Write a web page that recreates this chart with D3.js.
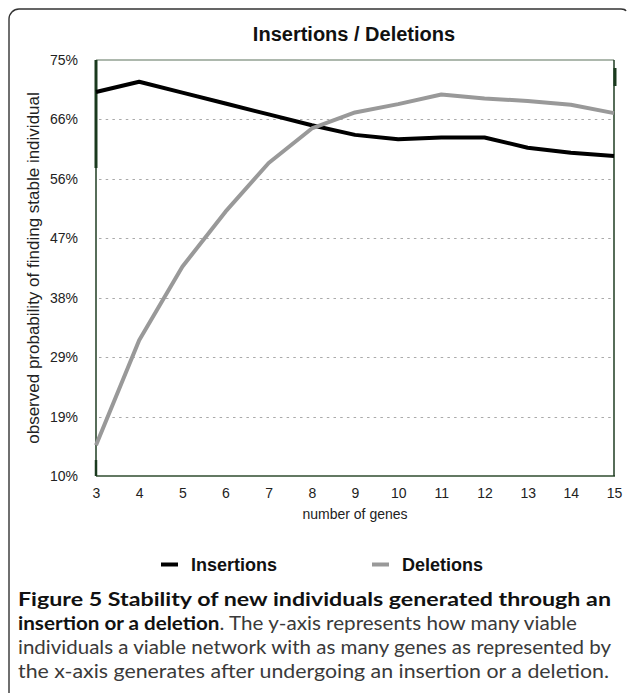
<!DOCTYPE html>
<html>
<head>
<meta charset="utf-8">
<script src="https://cdn.jsdelivr.net/npm/d3@7"></script>
<style>
  html, body { margin: 0; padding: 0; background: #fff; overflow: hidden; }
  svg { display: block; }
</style>
</head>
<body>
<svg id="chart" width="627" height="693"></svg>
<script>
// ---- data ----
const genes = [3, 4, 5, 6, 7, 8, 9, 10, 11, 12, 13, 14, 15];
const insertions = [70.0, 71.6, 69.9, 68.2, 66.5, 64.8, 63.3, 62.6, 62.9, 62.9, 61.3, 60.5, 60.0];
const deletions = [14.8, 31.2, 42.7, 51.3, 58.9, 64.3, 66.8, 68.1, 69.6, 69.0, 68.6, 68.0, 66.7];
const yTickValues = [10, 10 + 65 / 7, 10 + 130 / 7, 10 + 195 / 7, 10 + 260 / 7, 10 + 325 / 7, 10 + 390 / 7, 75];
const seriesNames = ["Insertions", "Deletions"];
const seriesColors = ["#000000", "#999999"];
const titleText = "Insertions / Deletions";
const xTitle = "number of genes";
const yTitle = "observed probability of finding stable individual";

(function () {
const svg = d3.select("#chart");

// outer panel border (rounded top-left corner, small dip at the right end)
svg.append("path")
  .attr("d", "M9,700 V19 A10,10 0 0 1 19,9 H621 Q625,9 626,11")
  .attr("fill", "none").attr("stroke", "#333").attr("stroke-width", 1.4);

const pL = 96, pR = 614, pT = 60, pB = 476;
const x = d3.scaleLinear().domain([3, 15]).range([pL, pR]);
const y = d3.scaleLinear().domain([10, 75]).range([pB, pT]);

// title
svg.append("text").attr("x", 354).attr("y", 40.5)
  .attr("text-anchor", "middle")
  .attr("font-family", "'Liberation Sans', Arial, sans-serif")
  .attr("font-weight", "bold").attr("font-size", 20)
  .attr("fill", "#111").text(titleText);

// grid lines
svg.append("g").selectAll("line")
  .data(yTickValues.slice(1, -1))
  .join("line")
  .attr("x1", pL + 3).attr("x2", pR - 3)
  .attr("y1", d => Math.round(y(d)) + 0.5).attr("y2", d => Math.round(y(d)) + 0.5)
  .attr("stroke", "#aaa").attr("stroke-width", 1.2)
  .attr("stroke-dasharray", "2.5,4.2");

// y axis labels
const yAxis = d3.axisLeft(y).tickValues(yTickValues)
  .tickFormat(d => Math.round(d) + "%").tickSize(0).tickPadding(18);
const gy = svg.append("g").attr("transform", `translate(${pL},0)`).call(yAxis);
gy.select(".domain").remove();
gy.selectAll("text").attr("font-family", "'Liberation Sans', Arial, sans-serif")
  .attr("font-size", 14).attr("fill", "#222");

// x axis labels
const xAxis = d3.axisBottom(x).tickValues(genes).tickFormat(d3.format("d"))
  .tickSize(0).tickPadding(12);
const gx = svg.append("g").attr("transform", `translate(0,${pB})`).call(xAxis);
gx.select(".domain").remove();
gx.selectAll("text").attr("font-family", "'Liberation Sans', Arial, sans-serif")
  .attr("font-size", 14).attr("fill", "#222");

// plot frame
const frame = svg.append("g");
frame.append("line").attr("x1", pL).attr("x2", pR).attr("y1", pT).attr("y2", pT)
  .attr("stroke", "#5d735d").attr("stroke-width", 1.2);
frame.append("line").attr("x1", pL).attr("x2", pR + 1).attr("y1", pB).attr("y2", pB)
  .attr("stroke", "#2f4d2f").attr("stroke-width", 1.5);
frame.append("line").attr("x1", pL).attr("x2", pL).attr("y1", pT).attr("y2", pB)
  .attr("stroke", "#1f3d22").attr("stroke-width", 1.5);
frame.append("line").attr("x1", pR).attr("x2", pR).attr("y1", pT).attr("y2", pB)
  .attr("stroke", "#1f3d22").attr("stroke-width", 1.5);
frame.append("line").attr("x1", pL).attr("x2", pL).attr("y1", pT).attr("y2", 168)
  .attr("stroke", "#1a3a1e").attr("stroke-width", 3);
frame.append("line").attr("x1", pL).attr("x2", pL).attr("y1", 460).attr("y2", pB)
  .attr("stroke", "#1a3a1e").attr("stroke-width", 2.5);
frame.append("line").attr("x1", pR + 1).attr("x2", pR + 1).attr("y1", 68).attr("y2", 86)
  .attr("stroke", "#1a3a1e").attr("stroke-width", 3);

// series lines
const line = d3.line().x(d => x(d[0])).y(d => y(d[1]));
[insertions, deletions].forEach((vals, i) => {
  svg.append("path")
    .datum(genes.map((g, j) => [g, vals[j]]))
    .attr("d", line)
    .attr("fill", "none")
    .attr("stroke", seriesColors[i])
    .attr("stroke-width", 4)
    .attr("stroke-linejoin", "round")
    .attr("stroke-linecap", "butt");
});

// axis titles
svg.append("text").attr("x", 355).attr("y", 519)
  .attr("text-anchor", "middle")
  .attr("font-family", "'Liberation Sans', Arial, sans-serif")
  .attr("font-size", 14).attr("fill", "#222").text(xTitle);

svg.append("text")
  .attr("transform", `translate(39,${(pT + pB) / 2}) rotate(-90)`)
  .attr("text-anchor", "middle")
  .attr("font-family", "'Liberation Sans', Arial, sans-serif")
  .attr("font-size", 17).attr("fill", "#222").text(yTitle);

// legend
const legendItems = [
  { name: seriesNames[0], color: seriesColors[0], sx: 161, tx: 191 },
  { name: seriesNames[1], color: seriesColors[1], sx: 372, tx: 402 }
];
const lg = svg.append("g");
legendItems.forEach(it => {
  lg.append("line").attr("x1", it.sx).attr("x2", it.sx + 17)
    .attr("y1", 564.5).attr("y2", 564.5)
    .attr("stroke", it.color).attr("stroke-width", 4);
  lg.append("text").attr("x", it.tx).attr("y", 571)
    .attr("font-family", "'Liberation Sans', Arial, sans-serif")
    .attr("font-weight", "bold").attr("font-size", 18)
    .attr("fill", "#111").text(it.name);
});

// caption
const capFont = "Lato, 'Open Sans', sans-serif";
const cap = svg.append("g").attr("font-family", capFont).attr("font-size", 19.5);
cap.append("text").attr("x", 18).attr("y", 606)
  .attr("textLength", 593).attr("lengthAdjust", "spacingAndGlyphs")
  .attr("font-weight", "bold").attr("fill", "#111")
  .text("Figure 5 Stability of new individuals generated through an");
const l2 = cap.append("text").attr("x", 18).attr("y", 630)
  .attr("textLength", 559).attr("lengthAdjust", "spacingAndGlyphs");
l2.append("tspan").attr("font-weight", "bold").attr("fill", "#111").text("insertion or a deletion");
l2.append("tspan").attr("fill", "#3a3a3a").text(". The y-axis represents how many viable");
cap.append("text").attr("x", 18).attr("y", 654)
  .attr("textLength", 593).attr("lengthAdjust", "spacingAndGlyphs")
  .attr("fill", "#3a3a3a")
  .text("individuals a viable network with as many genes as represented by");
cap.append("text").attr("x", 18).attr("y", 678)
  .attr("textLength", 591).attr("lengthAdjust", "spacingAndGlyphs")
  .attr("fill", "#3a3a3a")
  .text("the x-axis generates after undergoing an insertion or a deletion.");
})();
</script>
</body>
</html>
